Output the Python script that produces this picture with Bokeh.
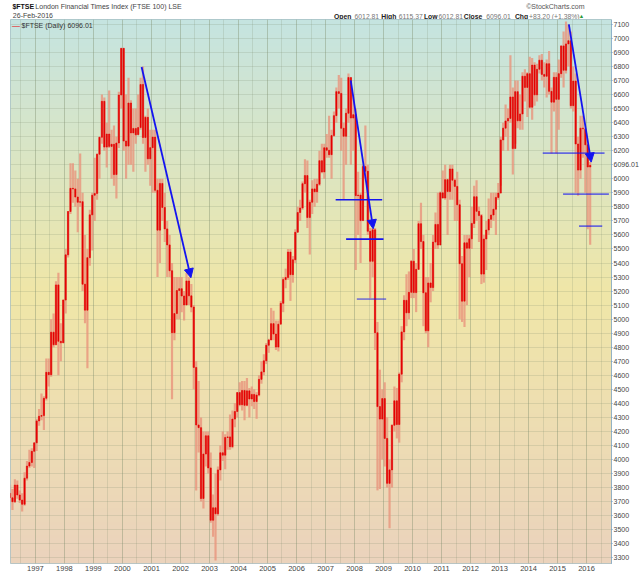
import numpy as np
import pandas as pd
from bokeh.plotting import figure
from bokeh.layouts import column
from bokeh.models import Range1d, FixedTicker, Label, Arrow, NormalHead
from bokeh.core.properties import value
from bokeh.embed import file_html
from bokeh.resources import INLINE

# ---------------- data (monthly, Feb-1996 .. Feb-2016) -------------
first_month = "1996-02"
prior_close = 3760  # close of Jan 1996

closes = [
    3727, 3699, 3818, 3747, 3711, 3681, 3867, 3953, 3979, 4058, 4119,
    4275, 4308, 4313, 4436, 4621, 4604, 4907, 4817, 5244, 4842, 4831, 5136,
    5458, 5767, 5932, 5928, 5870, 5833, 5837, 5249, 5064, 5438, 5743, 5883,
    5896, 6175, 6296, 6552, 6226, 6319, 6231, 6246, 6030, 6255, 6597, 6930,
    6269, 6233, 6540, 6327, 6359, 6313, 6365, 6672, 6294, 6438, 6142, 6222,
    6297, 5918, 5634, 5967, 5796, 5643, 5529, 5345, 4903, 5040, 5204, 5217,
    5165, 5101, 5272, 5166, 5086, 4656, 4246, 4227, 3722, 4039, 4169, 3940,
    3567, 3656, 3613, 3926, 4048, 4031, 4157, 4161, 4091, 4288, 4342, 4477,
    4390, 4492, 4386, 4489, 4431, 4464, 4413, 4459, 4571, 4624, 4703, 4814,
    4852, 4968, 4894, 4801, 4964, 5113, 5282, 5297, 5478, 5317, 5423, 5619,
    5760, 5792, 5965, 6023, 5724, 5833, 5928, 5907, 5961, 6129, 6049, 6221,
    6203, 6172, 6308, 6450, 6621, 6608, 6360, 6303, 6467, 6722, 6433, 6457,
    5880, 5884, 5702, 6087, 6054, 5626, 5412, 5637, 4903, 4377, 4288, 4434,
    4150, 3830, 3926, 4244, 4418, 4249, 4608, 4909, 5134, 5045, 5191, 5413,
    5189, 5355, 5680, 5553, 5188, 4917, 5258, 5225, 5549, 5675, 5528, 5900,
    5863, 5994, 5909, 6070, 5990, 5946, 5815, 5395, 5128, 5544, 5505, 5572,
    5682, 5872, 5768, 5738, 5321, 5571, 5635, 5711, 5742, 5783, 5867, 5898,
    6277, 6361, 6412, 6430, 6583, 6215, 6621, 6413, 6462, 6731, 6651, 6749,
    6510, 6810, 6598, 6780, 6845, 6744, 6730, 6820, 6623, 6546, 6723, 6566,
    6749, 6947, 6773, 6961, 6984, 6521, 6696, 6248, 6062, 6361, 6356, 6242,
    6084, 6096,
]
highs = [
    3820, 3790, 3860, 3850, 3780, 3760, 3910, 3990, 4070, 4080, 4120,
    4290, 4360, 4470, 4450, 4720, 4720, 5000, 5040, 5270, 5330, 4970, 5140,
    5500, 5770, 6110, 6110, 6060, 6000, 6180, 5900, 5600, 5500, 5780, 5900,
    6150, 6180, 6300, 6600, 6580, 6400, 6630, 6350, 6380, 6300, 6620, 6930,
    6930, 6600, 6720, 6560, 6500, 6500, 6600, 6720, 6800, 6450, 6500, 6350,
    6350, 6350, 6000, 6000, 6000, 5900, 5700, 5600, 5400, 5300, 5300, 5300,
    5300, 5200, 5330, 5300, 5250, 5100, 4700, 4560, 4300, 4200, 4200, 4200,
    4050, 3750, 3900, 3950, 4100, 4200, 4180, 4200, 4320, 4350, 4400, 4480,
    4550, 4560, 4560, 4580, 4510, 4520, 4500, 4480, 4600, 4700, 4750, 4830,
    4860, 5080, 5060, 4990, 4990, 5130, 5300, 5360, 5500, 5500, 5450, 5640,
    5800, 5850, 5980, 6140, 6130, 5850, 5990, 6000, 6000, 6200, 6250, 6250,
    6320, 6450, 6350, 6480, 6650, 6740, 6720, 6400, 6500, 6750, 6720, 6600,
    6500, 6050, 5900, 6100, 6380, 6100, 5650, 5650, 5650, 4980, 4640, 4500,
    4550, 4300, 4000, 4250, 4520, 4510, 4620, 4950, 5170, 5320, 5340, 5420,
    5500, 5400, 5700, 5830, 5600, 5300, 5300, 5400, 5600, 5760, 5900, 5910,
    6060, 6100, 6000, 6100, 6100, 6000, 6050, 5850, 5450, 5600, 5600, 5600,
    5800, 5950, 5990, 5800, 5750, 5600, 5700, 5860, 5900, 5900, 5900, 5970,
    6300, 6400, 6530, 6500, 6880, 6650, 6700, 6700, 6600, 6760, 6780, 6760,
    6870, 6860, 6830, 6820, 6880, 6890, 6830, 6850, 6910, 6650, 6760, 6760,
    6850, 6950, 7050, 7120, 7100, 7050, 6800, 6750, 6300, 6450, 6450, 6350,
    6250, 6120,
]
lows = [
    3700, 3640, 3690, 3720, 3690, 3630, 3670, 3850, 3940, 3950, 3940,
    4060, 4240, 4280, 4210, 4420, 4520, 4590, 4800, 4830, 4600, 4700, 4830,
    5040, 5440, 5750, 5830, 5800, 5620, 5800, 5200, 4970, 4650, 5380, 5490,
    5700, 5850, 6000, 6250, 6200, 6080, 6220, 6000, 5950, 5860, 6220, 6500,
    6200, 6000, 6100, 6100, 6050, 6250, 6320, 6350, 6250, 6050, 6100, 5950,
    5900, 5900, 5300, 5400, 5700, 5550, 5300, 5300, 4430, 4850, 5000, 5000,
    5050, 4990, 5100, 5100, 5050, 4500, 3780, 4050, 3700, 3650, 3950, 3900,
    3550, 3450, 3280, 3600, 3850, 3990, 3930, 4070, 4070, 4080, 4230, 4300,
    4380, 4350, 4280, 4380, 4300, 4380, 4360, 4290, 4450, 4540, 4600, 4680,
    4760, 4850, 4850, 4780, 4770, 4970, 5050, 5220, 5280, 5130, 5260, 5400,
    5620, 5700, 5780, 5900, 5650, 5460, 5750, 5800, 5830, 5950, 6040, 6000,
    6150, 6150, 6000, 6300, 6400, 6500, 6200, 5850, 6100, 6400, 6100, 6200,
    5350, 5600, 5400, 5700, 6000, 5600, 5150, 5300, 4780, 3780, 3790, 4000,
    3950, 3800, 3510, 3800, 4200, 4150, 4120, 4550, 4850, 4950, 5000, 5150,
    5150, 5050, 5350, 5500, 4950, 4900, 4800, 5120, 5200, 5500, 5500, 5550,
    5860, 5850, 5600, 5850, 5850, 5700, 5700, 5000, 4980, 4944, 5100, 5300,
    5500, 5650, 5700, 5550, 5250, 5260, 5350, 5600, 5650, 5700, 5600, 5850,
    5950, 6200, 6300, 6200, 6400, 6030, 6250, 6360, 6350, 6350, 6550, 6440,
    6500, 6420, 6520, 6550, 6750, 6700, 6650, 6580, 6600, 6180, 6480, 6180,
    6350, 6720, 6650, 6750, 6800, 6500, 6480, 5900, 5880, 6000, 6150, 5900,
    5640, 5530,
]

year_ticks = list(range(1997, 2017))
half_year_ticks = [y + 0.5 for y in range(1996, 2017)]
price_ticks = list(range(3300, 7101, 100))

# hand-drawn trend arrows and support lines (date as year fraction, price)
trend_x0 = [2000.66, 2007.87, 2015.39]
trend_y0 = [6796, 6701, 7100]
trend_x1 = [2002.36, 2008.645, 2016.16]
trend_y1 = [5295, 5644, 6119]
level_x0 = [2007.35, 2007.71, 2008.08, 2014.49, 2015.19, 2015.74]
level_x1 = [2008.955, 2009.0, 2009.09, 2016.62, 2016.77, 2016.54]
level_y = [5851, 5570, 5143, 6183, 5891, 5663]
level_alpha = [1.0, 1.0, 0.55, 0.6, 0.6, 0.6]

last_close = "6096.01"
quote_names = ["Open", "High", "Low", "Close", "Chg"]
quote_values = ["6012.81", "6115.37", "6012.81", "6096.01", "+83.20 (+1.38%)"]

# ---------------- build -------------------------------------------------------------------
n = len(closes)
months = pd.period_range(first_month, periods=n, freq="M")
t = np.array([p.year + (p.month - 0.5) / 12.0 for p in months])
opens = [prior_close] + closes[:-1]
body_top = [max(o, c) for o, c in zip(opens, closes)]
body_bot = [min(o, c) for o, c in zip(opens, closes)]

FONT = value("Liberation Sans")

# ---- header strip (its own small figure so the text is not clipped) ----
HH = 19
hdr = figure(width=640, height=HH, x_range=Range1d(0, 640), y_range=Range1d(HH, 0),
             x_axis_type=None, y_axis_type=None, output_backend="svg", toolbar_location=None,
             min_border=0, title=None)
hdr.outline_line_color = None
hdr.grid.visible = False
hdr.background_fill_color = "#ffffff"
hdr.border_fill_color = "#ffffff"

def htext(xs, ys, texts, size="6.8px", bold=False, color="#222222"):
    hdr.text(x=xs, y=ys, text=texts, text_font=FONT, text_font_size=value(size),
             text_font_style="bold" if bold else "normal", text_color=color,
             text_baseline="middle", text_align="left")

htext([2], [5.5], ["$FTSE"], size="7px", bold=True, color="#111111")
htext([26.5], [5.5], ["London Financial Times Index (FTSE 100) LSE"], size="7px", color="#444444")
htext([2.5], [15], ["26-Feb-2016"], size="7px", color="#444444")
htext([550], [5.5], ["\u00a9StockCharts.com"], size="7px", color="#555555")
htext([345, 395.5, 441, 483.5, 538], [15.5] * 5, quote_names, bold=True, color="#222222")
htext([367, 414, 456.5, 507.5, 553], [15.5] * 5, quote_values, color="#777777")
htext([606], [15.5], ["\u25b2"], size="5.5px", color="#2a9a3a")

# ---- main chart ----
X0, X1 = 1996.14, 2016.86
Y0, Y1 = 3259, 7135
ML, MR, MT, MB = 10, 29, 0, 13
FW, FH = 601, 544
W, H = ML + FW + MR, MT + FH + MB

p = figure(width=W, height=H, frame_width=FW, frame_height=FH,
           x_range=Range1d(X0, X1), y_range=Range1d(Y0, Y1), title=None,
           output_backend="svg", toolbar_location=None, y_axis_location="right",
           min_border_left=ML, min_border_right=MR, min_border_top=MT, min_border_bottom=MB)
p.background_fill_color = "#ffffff"
p.border_fill_color = "#ffffff"
p.outline_line_color = "#a7c0c6"
p.outline_line_width = 1

# vertical gradient background
stops_f = [0.0, 0.5, 1.0]
stops_c = [(197, 228, 225), (240, 231, 168), (235, 211, 189)]
N = 544
f = np.linspace(1.0, 0.0, N)  # row 0 = bottom
img = np.zeros((N, 1), dtype=np.uint32)
v = img.view(dtype=np.uint8).reshape((N, 1, 4))
for k in range(3):
    v[:, 0, k] = np.interp(f, stops_f, [c[k] for c in stops_c]).astype(np.uint8)
v[:, 0, 3] = 255
p.image_rgba(image=[img], x=X0, y=Y0, dw=X1 - X0, dh=Y1 - Y0, level="image")

# grids
p.xaxis.ticker = FixedTicker(ticks=year_ticks, minor_ticks=half_year_ticks)
p.yaxis.ticker = FixedTicker(ticks=price_ticks)
p.xgrid.grid_line_color = "#7d8c6c"
p.xgrid.grid_line_alpha = 0.4
p.xgrid.minor_grid_line_color = "#7d8c6c"
p.xgrid.minor_grid_line_alpha = 0.2
p.ygrid.grid_line_color = "#7d8c6c"
p.ygrid.grid_line_alpha = 0.2

# axes
for ax in (p.xaxis[0], p.yaxis[0]):
    ax.major_label_text_font = "Liberation Sans"
    ax.major_label_text_color = "#444444"
    ax.minor_tick_line_color = None
    ax.minor_tick_out = 0
    ax.minor_tick_in = 0
p.xaxis.major_label_text_font_size = "7.5px"
p.xaxis.major_label_standoff = 2
p.xaxis.axis_line_color = None
p.xaxis.major_tick_line_color = None
p.xaxis.major_tick_out = 0
p.xaxis.major_tick_in = 0
p.yaxis.major_label_text_font_size = "7px"
p.yaxis.major_label_standoff = 1
p.yaxis.axis_line_color = "#6f9cc8"
p.yaxis.axis_line_dash = "1 1"
p.yaxis.major_tick_line_color = "#6f9cc8"
p.yaxis.major_tick_out = 1
p.yaxis.major_tick_in = 0
# the last-price tag replaces the 6100 label (6096.01 lies on it)
p.yaxis.major_label_overrides = {6100: last_close}

# price bars
p.vbar(x=t, top=highs, bottom=lows, width=0.9 / 12, fill_color="#e8937c", line_color=None, fill_alpha=0.8)
p.vbar(x=t, top=body_top, bottom=body_bot, width=0.5 / 12, fill_color="#e40000",
       line_color="#e40000", line_width=0.6)

# annotations
blue = "#1414f0"
for xa, ya, xb, yb in zip(trend_x0, trend_y0, trend_x1, trend_y1):
    p.add_layout(Arrow(end=NormalHead(size=9, fill_color=blue, line_color=blue),
                       x_start=xa, y_start=ya, x_end=xb, y_end=yb,
                       line_color=blue, line_width=1.8))
p.segment(x0=level_x0, y0=level_y, x1=level_x1, y1=level_y, line_color=blue,
          line_width=1.6, line_alpha=level_alpha)

# legend inside the plot (px, py = page position of left edge / middle)
def lab(txt, px, py, size="7px", bold=False, color="#222222"):
    p.add_layout(Label(x=px - ML, y=FH - (py - HH), x_units="screen", y_units="screen",
                       text=txt, text_font="Liberation Sans", text_font_size=size,
                       text_font_style="bold" if bold else "normal", text_color=color,
                       text_baseline="middle"))

lab("\u2014", 11.5, 25, size="8px", bold=True, color="#e05050")
lab("$FTSE (Daily) " + last_close, 21, 25, color="#333333")

layout = column(hdr, p, spacing=0)
open("out.html", "w").write(file_html(layout, INLINE))
